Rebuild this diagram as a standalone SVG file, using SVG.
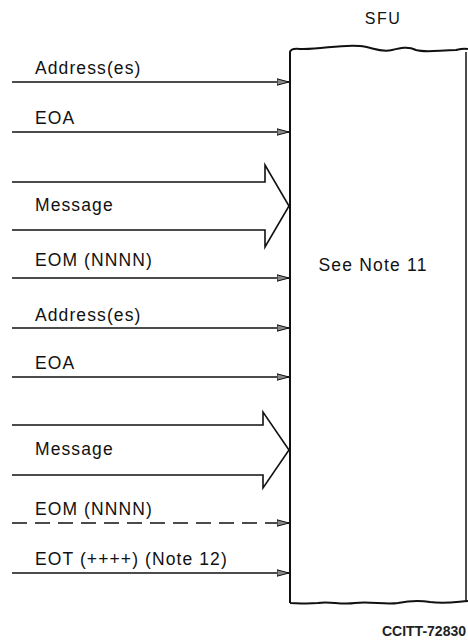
<svg xmlns="http://www.w3.org/2000/svg" width="468" height="642" viewBox="0 0 468 642">
<style>
.t{font-family:"Liberation Sans",Arial,sans-serif;font-size:17.5px;fill:#111;letter-spacing:1.1px}
.ln{stroke:#111;stroke-width:1.6;fill:none}
.big{stroke:#111;stroke-width:1.6;fill:none;stroke-linejoin:miter}
.box{stroke:#111;stroke-width:2;fill:#fff}
</style>
<defs>
<marker id="ah" viewBox="0 0 12 8" refX="12" refY="4" markerWidth="12" markerHeight="8" markerUnits="userSpaceOnUse" orient="auto">
<path d="M0,0.8 L12,4 L0,7.2 Z" fill="#888" stroke="#111" stroke-width="1"/>
</marker>
</defs>
<g id="sfu">
<path class="box" d="M290,603 L290,52 Q291,48 300,49 C320,50 340,44 360,46 C372,47 380,53 392,50 C400,48 408,46 416,50 C426,53 440,50 456,50 C460,49 463,48 468,49 M468,601 C455,602 445,604 430,602 C418,600 408,601 398,603 C385,605 370,601 355,603 C340,605 330,601 318,603 C305,604 296,603 290,603"/>
<line x1="466" y1="52" x2="466" y2="601" stroke="#111" stroke-width="1.5"/>
<text class="t" x="383" y="24" text-anchor="middle" style="font-size:16px;letter-spacing:1.5px">SFU</text>
<text class="t" x="373" y="271" text-anchor="middle" style="letter-spacing:1.2px">See Note 11</text>
</g>
<g id="connectors">
<line class="ln" x1="12" y1="82" x2="289" y2="82" marker-end="url(#ah)"/>
<line class="ln" x1="12" y1="132" x2="289" y2="132" marker-end="url(#ah)"/>
<path class="big" d="M12,182 L265,182 L265,165 L289,206 L265,247 L265,230 L12,230"/>
<line class="ln" x1="12" y1="278" x2="289" y2="278" marker-end="url(#ah)"/>
<line class="ln" x1="12" y1="328" x2="289" y2="328" marker-end="url(#ah)"/>
<line class="ln" x1="12" y1="377" x2="289" y2="377" marker-end="url(#ah)"/>
<path class="big" d="M12,425 L263,425 L263,412 L289,450 L263,488 L263,475 L12,475"/>
<line class="ln" x1="12" y1="523" x2="289" y2="523" stroke-dasharray="15,8" marker-end="url(#ah)"/>
<line class="ln" x1="12" y1="573" x2="289" y2="573" marker-end="url(#ah)"/>
</g>
<g id="labels">
<text class="t" x="35" y="74">Address(es)</text>
<text class="t" x="35" y="124">EOA</text>
<text class="t" x="35" y="211">Message</text>
<text class="t" x="35" y="266">EOM (NNNN)</text>
<text class="t" x="35" y="321">Address(es)</text>
<text class="t" x="35" y="369">EOA</text>
<text class="t" x="35" y="455">Message</text>
<text class="t" x="35" y="515">EOM (NNNN)</text>
<text class="t" x="35" y="565">EOT (++++) (Note 12)</text>
</g>
<text x="466" y="636" text-anchor="end" style="font-family:'Liberation Sans',Arial,sans-serif;font-size:14px;font-weight:bold;fill:#222">CCITT-72830</text>
</svg>
